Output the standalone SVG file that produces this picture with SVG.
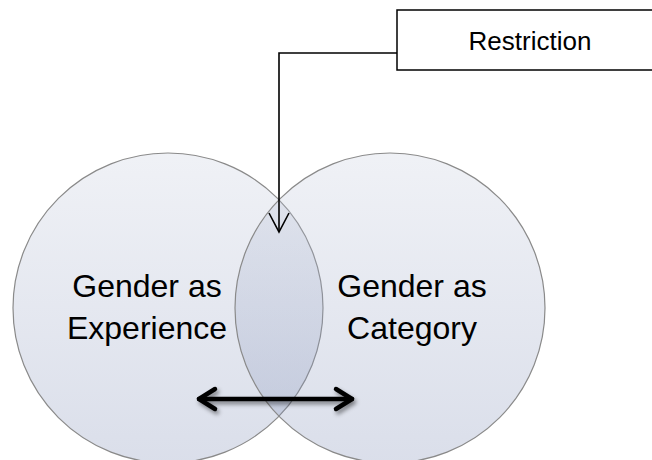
<svg xmlns="http://www.w3.org/2000/svg" width="652" height="460" viewBox="0 0 652 460">
  <defs>
    <linearGradient id="cg" x1="0" y1="0" x2="0" y2="1">
      <stop offset="0" stop-color="#C3CADC"/>
      <stop offset="1" stop-color="#7181AE"/>
    </linearGradient>
    <filter id="sh" x="-20%" y="-50%" width="140%" height="200%">
      <feDropShadow dx="2" dy="3" stdDeviation="2" flood-color="#000" flood-opacity="0.45"/>
    </filter>
  </defs>
  <style>
    .circ { fill: url(#cg); fill-opacity: 0.26; stroke: #8A8A8A; stroke-width: 1.2; }
    .lbl { font-family: "Liberation Sans", Arial, sans-serif; font-size: 32px; fill: #000; text-anchor: middle; }
    .rlbl { font-family: "Liberation Sans", Arial, sans-serif; font-size: 26px; fill: #000; text-anchor: middle; }
    .box { fill: #fff; stroke: #000; stroke-width: 1.5; }
    .conn { fill: none; stroke: #000; stroke-width: 1.6; }
    .dbl { fill: none; stroke: #000; stroke-width: 4.5; stroke-linecap: round; stroke-linejoin: round; }
  </style>
  <rect width="652" height="460" fill="#fff"/>
  <g id="experience">
    <circle class="circ" cx="168" cy="308" r="155"/>
    <text class="lbl" x="147" y="297">Gender as</text>
    <text class="lbl" x="147" y="339">Experience</text>
  </g>
  <g id="category">
    <circle class="circ" cx="390" cy="308" r="155"/>
    <text class="lbl" x="412" y="297">Gender as</text>
    <text class="lbl" x="412" y="339">Category</text>
  </g>
  <g id="restriction">
    <rect class="box" x="397" y="10" width="270" height="60"/>
    <text class="rlbl" x="530" y="50">Restriction</text>
  </g>
  <g id="connectors">
    <polyline class="conn" points="397,53 279,53 279,231"/>
    <polyline class="conn" points="269,213 279,232 289,213"/>
    <g filter="url(#sh)">
      <line class="dbl" x1="199" y1="399" x2="352" y2="399"/>
      <polyline class="dbl" points="215,389 199,399 215,409"/>
      <polyline class="dbl" points="336,389 352,399 336,409"/>
    </g>
  </g>
</svg>
